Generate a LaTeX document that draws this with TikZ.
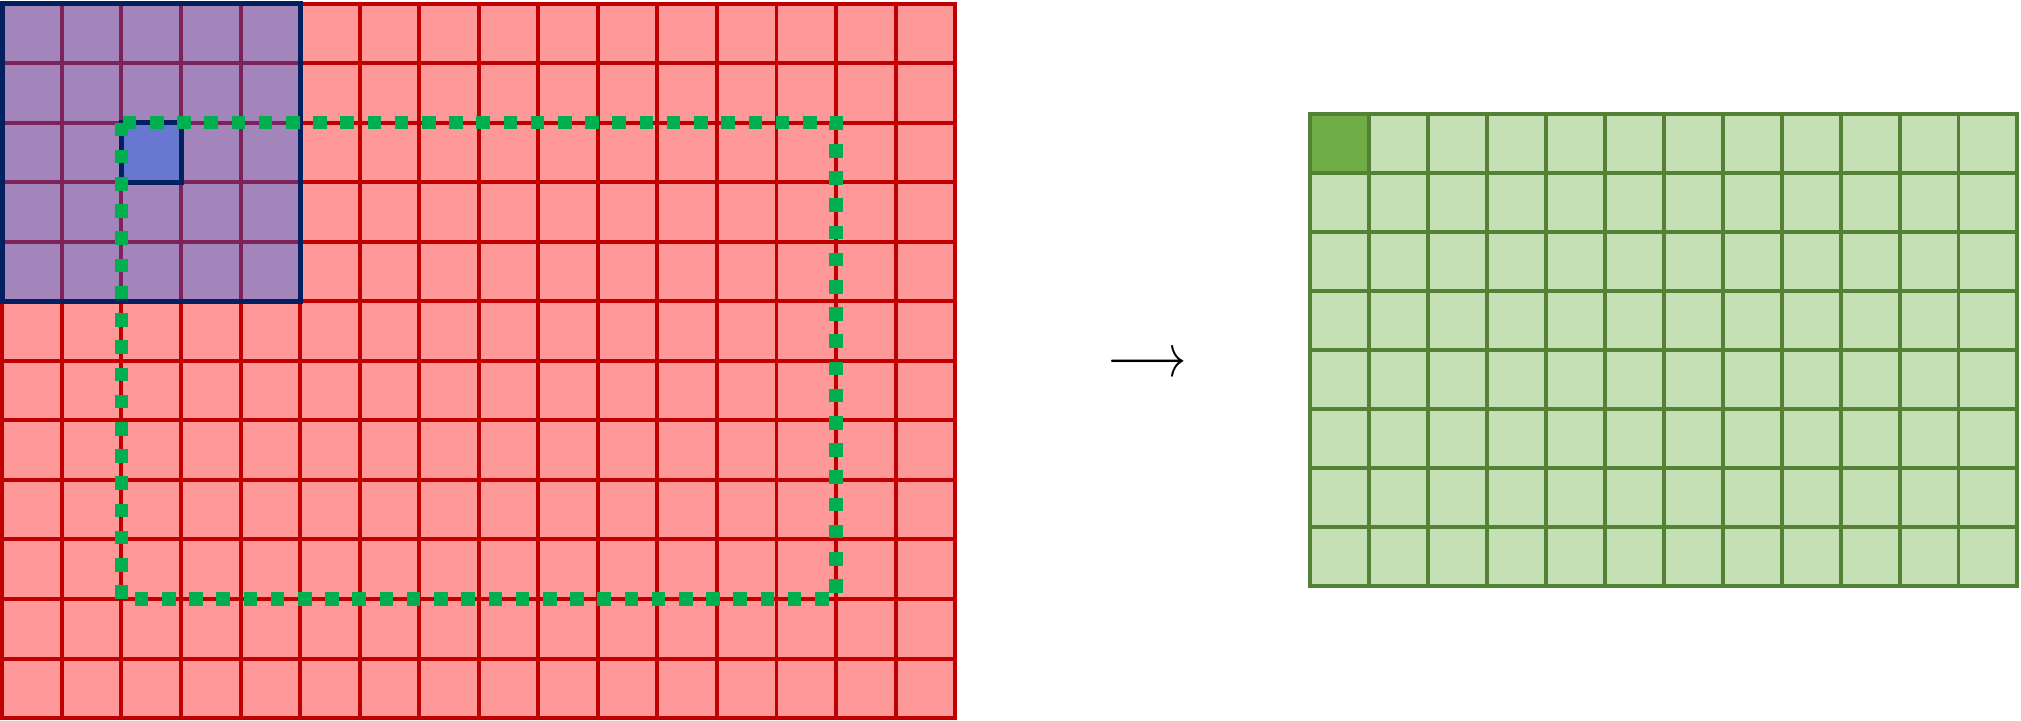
\documentclass[tikz,border=0pt]{standalone}
\usetikzlibrary{positioning}
\definecolor{inred}{HTML}{FF9999}
\definecolor{inline}{HTML}{C00000}
\definecolor{winblue}{HTML}{0262FA}
\definecolor{winedge}{HTML}{002060}
\definecolor{dotgreen}{HTML}{00B050}
\definecolor{outfill}{HTML}{C5E0B4}
\definecolor{outline}{HTML}{548235}
\definecolor{outdark}{HTML}{70AD47}
\begin{document}
\begin{tikzpicture}[
incell/.style={
  draw=inline,
  fill=inred,
  line width=1.9pt
},
window/.style={
  draw=winedge,
  fill=winblue,
  fill opacity=0.36,
  line width=2.4pt
},
field/.style={
  draw=dotgreen,
  line width=6.5pt,
  dash pattern=on 6.5pt off 6.5pt
},
outcell/.style={
  draw=outline,
  fill=outfill,
  line width=1.9pt
},
firstcell/.style={
  outcell,
  fill=outdark
}
]
\useasboundingbox (0,0) rectangle (33.94,12.1);
% input map
\begin{scope}[shift={(0.04,0.04)}]
\foreach \i in {0,...,15}
  \foreach \j in {0,...,11}
    \draw[incell] (\i,\j) rectangle ++(1,1);
\draw[window] (0,7) rectangle (5,12);
\draw[window] (2,9) rectangle (3,10);
\draw[field] (2,10) rectangle (14,2);
\end{scope}
% output map
\begin{scope}[shift={(22.0,2.26)},x=0.99cm,y=0.99cm]
\foreach \i in {0,...,11}
  \foreach \j in {0,...,7}
    \draw[outcell] (\i,\j) rectangle ++(1,1);
\draw[firstcell] (0,7) rectangle ++(1,1);
\end{scope}
\node[xscale=2.35,yscale=2.9] (arrow) at (19.26,5.97) {$\longrightarrow$};
\end{tikzpicture}
\end{document}
